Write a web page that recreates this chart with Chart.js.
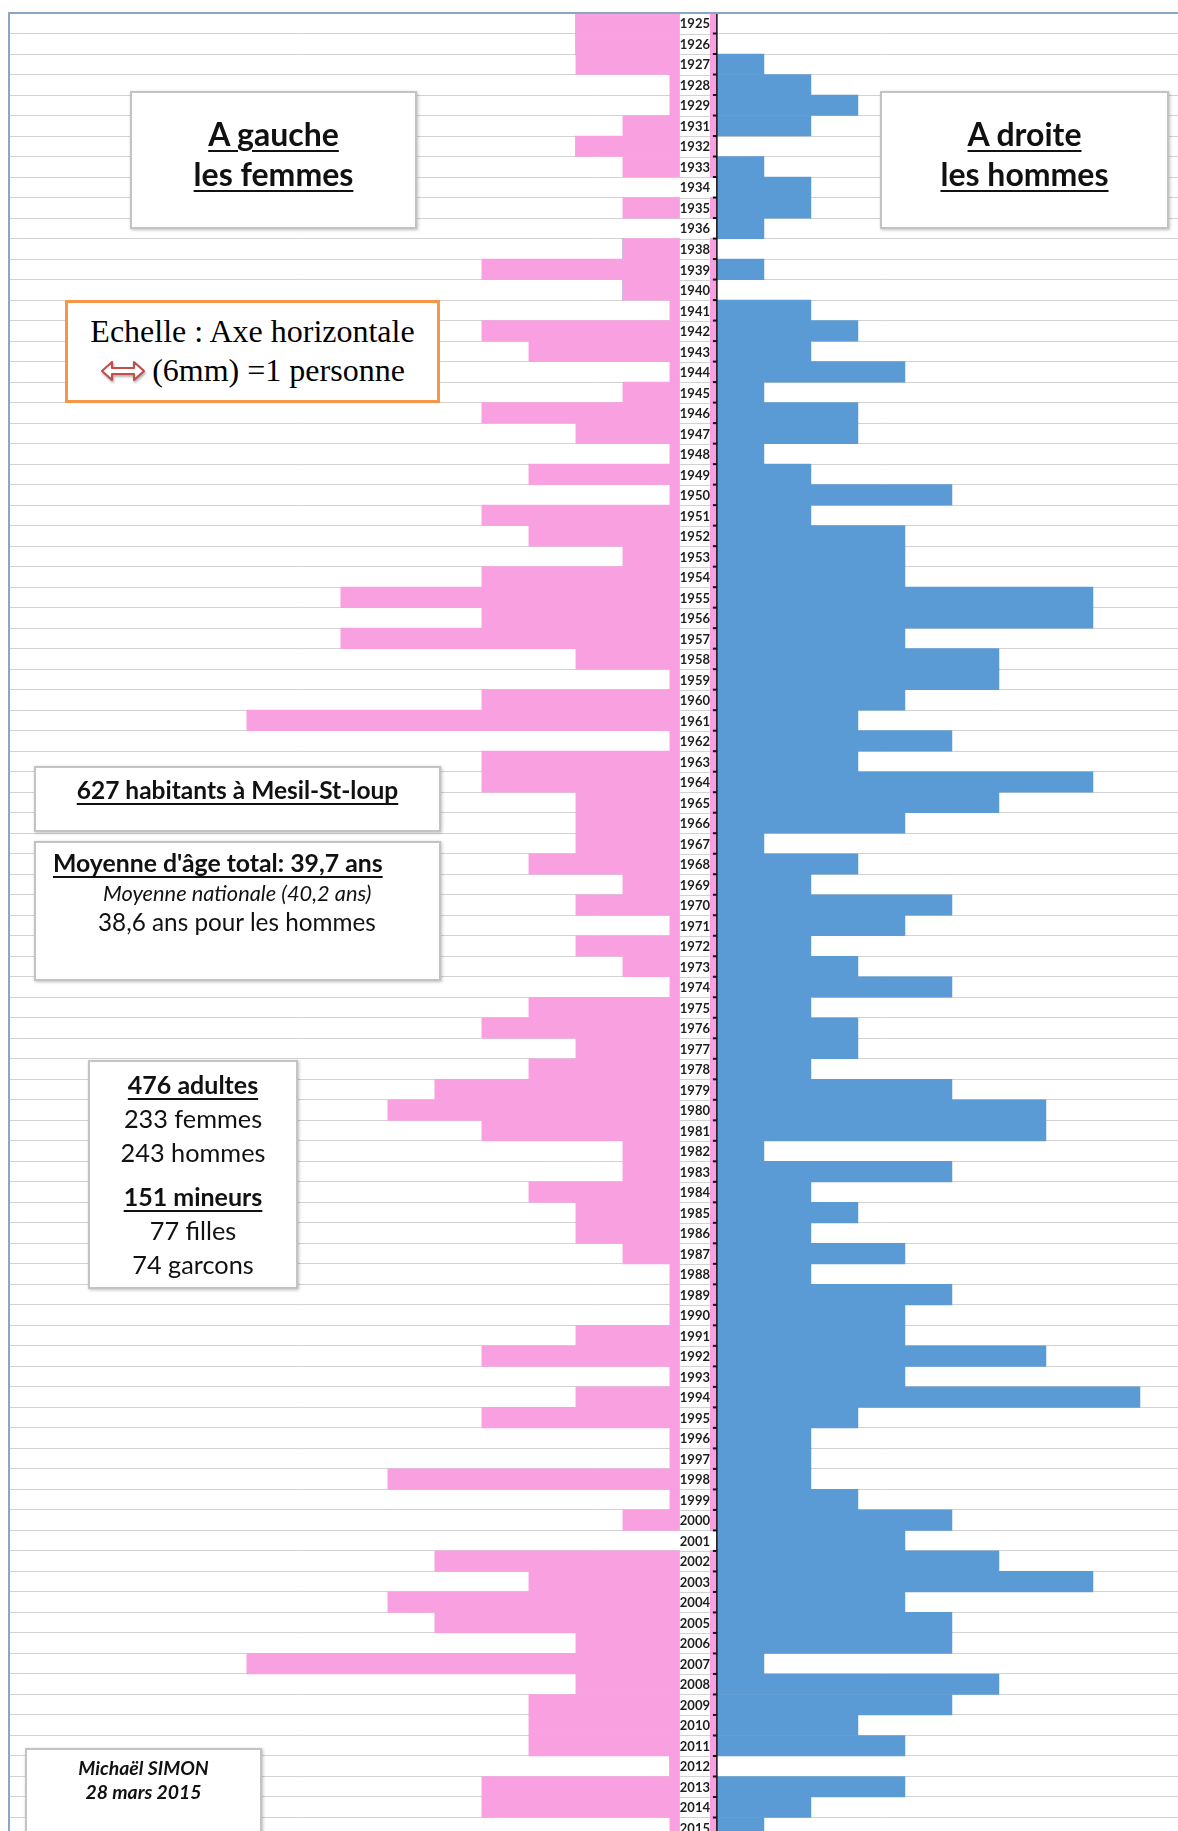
<!DOCTYPE html>
<html lang="fr">
<head>
<meta charset="utf-8">
<title>Pyramide des âges - Mesil-St-loup</title>
<script src="https://cdn.jsdelivr.net/npm/chart.js@4.4.1/dist/chart.umd.min.js"></script>
<style>
	html, body { margin: 0; padding: 0; background: #fff; overflow: hidden; }
	#page { position: relative; width: 1178px; height: 1831px; overflow: hidden; }
	#chartBox { position: absolute; left: 0; top: 0; width: 1178px; height: 1838px; }
	.box { position: absolute; background: #fff; border: 2px solid #c3c3c3; box-shadow: 1px 1px 3px rgba(0,0,0,0.25); box-sizing: border-box; }
	.line { position: absolute; white-space: nowrap; line-height: 1; font-family: Lato, 'Open Sans', sans-serif; color: #111; }
	.c { text-align: center; }
	.b { font-weight: bold; }
	.u { text-decoration: underline; text-decoration-thickness: 2px; text-underline-offset: 4px; }
	.serif { font-family: 'Liberation Serif', 'DejaVu Serif', serif; color: #000; }
</style>
</head>
<body>
<div id="page">
	<div id="chartBox"><canvas id="pyramide"></canvas></div>

	<!-- A gauche / A droite -->
	<div class="box" style="left:130px; top:91px; width:287px; height:138px;"></div>
	<div class="line c b u" style="left:130px; width:287px; top:118px; font-size:32px;">A gauche</div>
	<div class="line c b u" style="left:130px; width:287px; top:158px; font-size:32px;">les femmes</div>

	<div class="box" style="left:880px; top:91px; width:289px; height:138px;"></div>
	<div class="line c b u" style="left:880px; width:289px; top:118px; font-size:32px;">A droite</div>
	<div class="line c b u" style="left:880px; width:289px; top:158px; font-size:32px;">les hommes</div>

	<!-- Echelle -->
	<div class="box" style="left:65px; top:300px; width:375px; height:103px; border:3px solid #f79646; box-shadow:none;"></div>
	<div class="line c serif" style="left:65px; width:375px; top:315px; font-size:32px;">Echelle : Axe horizontale</div>
	<div class="line c serif" style="left:65px; width:375px; top:354px; font-size:32px;"><svg width="46" height="22" viewBox="0 0 46 22" style="vertical-align:-1px; margin-right:6px; filter:drop-shadow(1px 2px 1px rgba(0,0,0,0.3));"><path d="M2 11 L12 2 L12 8 L34 8 L34 2 L44 11 L34 20 L34 14 L12 14 L12 20 Z" fill="#fff" stroke="#c0504d" stroke-width="2.2" stroke-linejoin="round"/></svg>(6mm) =1 personne</div>

	<!-- Habitants -->
	<div class="box" style="left:34px; top:766px; width:407px; height:66px;"></div>
	<div class="line c b u" style="left:34px; width:407px; top:778px; font-size:24.5px;">627 habitants à Mesil-St-loup</div>

	<!-- Moyenne -->
	<div class="box" style="left:34px; top:841px; width:407px; height:140px;"></div>
	<div class="line b u" style="left:53px; top:851px; font-size:24.8px;">Moyenne d'âge total: 39,7 ans</div>
	<div class="line" style="left:103px; top:882px; font-size:21.8px; font-style:italic;">Moyenne nationale (40,2 ans)</div>
	<div class="line" style="left:98px; top:910px; font-size:24.3px;">38,6 ans pour les hommes</div>

	<!-- Adultes / mineurs -->
	<div class="box" style="left:88px; top:1060px; width:210px; height:229px;"></div>
	<div class="line c b u" style="left:88px; width:210px; top:1072px; font-size:25px;">476 adultes</div>
	<div class="line c" style="left:88px; width:210px; top:1106px; font-size:25.3px;">233 femmes</div>
	<div class="line c" style="left:88px; width:210px; top:1140px; font-size:25.3px;">243 hommes</div>
	<div class="line c b u" style="left:88px; width:210px; top:1184px; font-size:25px;">151 mineurs</div>
	<div class="line c" style="left:88px; width:210px; top:1218px; font-size:25.3px;">77 filles</div>
	<div class="line c" style="left:88px; width:210px; top:1252px; font-size:25.3px;">74 garcons</div>

	<!-- Signature -->
	<div class="box" style="left:25px; top:1748px; width:237px; height:90px;"></div>
	<div class="line c b" style="left:25px; width:237px; top:1758px; font-size:19.4px; font-style:italic;">Michaël SIMON</div>
	<div class="line c b" style="left:25px; width:237px; top:1782px; font-size:19.4px; font-style:italic;">28 mars 2015</div>
</div>

<script>
(() => {
	'use strict'

	// Années de naissance (1930 et 1937 absentes)
	const annees = [
		'1925', '1926', '1927', '1928', '1929', '1931', '1932', '1933', '1934', '1935', '1936', '1938', '1939', '1940',
		'1941', '1942', '1943', '1944', '1945', '1946', '1947', '1948', '1949', '1950', '1951', '1952', '1953', '1954',
		'1955', '1956', '1957', '1958', '1959', '1960', '1961', '1962', '1963', '1964', '1965', '1966', '1967', '1968', '1969',
		'1970', '1971', '1972', '1973', '1974', '1975', '1976', '1977', '1978', '1979', '1980', '1981', '1982', '1983', '1984',
		'1985', '1986', '1987', '1988', '1989', '1990', '1991', '1992', '1993', '1994', '1995', '1996', '1997', '1998', '1999',
		'2000', '2001', '2002', '2003', '2004', '2005', '2006', '2007', '2008', '2009', '2010', '2011', '2012', '2013', '2014', '2015'
	];

	// Nombre de femmes par année
	const femmes = [
		3, 3, 3, 1, 1, 2, 3, 2, 0, 2, 0, 2, 5, 2,
		1, 5, 4, 1, 2, 5, 3, 1, 4, 1, 5, 4, 2, 5,
		8, 5, 8, 3, 1, 5, 10, 1, 5, 5, 3, 3, 3, 4, 2,
		3, 1, 3, 2, 1, 4, 5, 3, 4, 6, 7, 5, 2, 2, 4,
		3, 3, 2, 1, 1, 1, 3, 5, 1, 3, 5, 1, 1, 7, 1,
		2, 0, 6, 4, 7, 6, 3, 10, 3, 4, 4, 4, 1, 5, 5, 1
	];

	// Nombre d'hommes par année
	const hommes = [
		0, 0, 1, 2, 3, 2, 0, 1, 2, 2, 1, 0, 1, 0,
		2, 3, 2, 4, 1, 3, 3, 1, 2, 5, 2, 4, 4, 4,
		8, 8, 4, 6, 6, 4, 3, 5, 3, 8, 6, 4, 1, 3, 2,
		5, 4, 2, 3, 5, 2, 3, 3, 2, 5, 7, 7, 1, 5, 2,
		3, 2, 4, 2, 5, 4, 4, 7, 4, 9, 3, 2, 2, 2, 3,
		5, 4, 6, 8, 4, 5, 5, 1, 6, 5, 3, 4, 0, 4, 2, 1
	];

	const pinkColor = '#f9a0e1';
	const blueColor = '#5b9bd5';
	const gridColor = '#d2d2d2';

	// Years column, centre axis and plot frame
	const pyramidPlugin = {
		id: 'pyramid',
		afterDatasetsDraw(chart) {
			const { ctx, chartArea, scales: { x, y } } = chart;
			const x0 = x.getPixelForValue(0);
			const rowH = y.getPixelForValue(1) - y.getPixelForValue(0);
			const colLeft = x0 - 37;
			const colRight = x0 - 7;

			ctx.save();
			// white label column
			ctx.fillStyle = '#fff';
			ctx.fillRect(colLeft, chartArea.top, colRight - colLeft, chartArea.bottom - chartArea.top);

			// grid lines inside the column
			ctx.strokeStyle = gridColor;
			ctx.lineWidth = 1;
			for (let i = 0; i <= annees.length; i++) {
				const yb = Math.round(y.getPixelForValue(i) - rowH / 2) + 0.5;
				ctx.beginPath();
				ctx.moveTo(colLeft, yb);
				ctx.lineTo(colRight, yb);
				ctx.stroke();
			}

			// year labels
			ctx.fillStyle = '#1e1e1e';
			ctx.font = 'bold 13px Lato';
			ctx.textAlign = 'center';
			ctx.textBaseline = 'middle';
			annees.forEach((a, i) => {
				ctx.fillText(a, (colLeft + colRight) / 2, y.getPixelForValue(i) + 1);
			});

			// centre axis with small ticks
			ctx.strokeStyle = '#111';
			ctx.lineWidth = 1.5;
			ctx.beginPath();
			ctx.moveTo(x0, chartArea.top);
			ctx.lineTo(x0, chartArea.bottom);
			ctx.stroke();
			ctx.lineWidth = 2;
			for (let i = 0; i <= annees.length; i++) {
				const yb = y.getPixelForValue(i) - rowH / 2;
				ctx.beginPath();
				ctx.moveTo(x0 - 4, yb);
				ctx.lineTo(x0, yb);
				ctx.stroke();
			}

			// plot frame (top and left)
			ctx.strokeStyle = '#8aa6c4';
			ctx.lineWidth = 2;
			ctx.beginPath();
			ctx.moveTo(chartArea.left, chartArea.bottom);
			ctx.lineTo(chartArea.left, chartArea.top);
			ctx.lineTo(chartArea.right, chartArea.top);
			ctx.stroke();
			ctx.restore();
		}
	};

	const dataPyramide = {
		labels: annees,
		datasets: [{
			label: 'Femmes',
			data: femmes.map(v => -v),
			backgroundColor: pinkColor,
			barPercentage: 1,
			categoryPercentage: 1
		}, {
			label: 'Hommes',
			data: hommes,
			backgroundColor: blueColor,
			barPercentage: 1,
			categoryPercentage: 1
		}]
	};

	const configPyramide = {
		type: 'bar',
		data: dataPyramide,
		options: {
			indexAxis: 'y',
			responsive: true,
			maintainAspectRatio: false,
			animation: false,
			layout: {
				padding: { left: 9, top: 13, right: 0, bottom: 0 }
			},
			plugins: {
				tooltip: { enabled: false },
				legend: { display: false },
				title: { display: false }
			},
			scales: {
				x: {
					display: false,
					stacked: true,
					min: -15.06,
					max: 9.81
				},
				y: {
					stacked: true,
					ticks: { display: false },
					grid: {
						color: gridColor,
						lineWidth: 1,
						drawTicks: false,
						offset: true
					},
					border: { display: false }
				}
			}
		},
		plugins: [pyramidPlugin]
	};

	const myPyramide = new Chart(document.getElementById('pyramide'), configPyramide);
})()
</script>
</body>
</html>
